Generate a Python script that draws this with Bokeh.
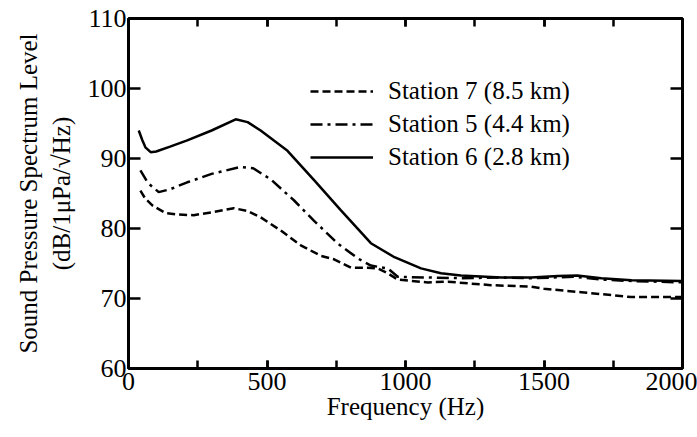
from bokeh.plotting import figure
from bokeh.models import Range1d, LinearAxis, SingleIntervalTicker, Legend, LegendItem
from bokeh.embed import file_html
from bokeh.resources import INLINE

# Station 6 (2.8 km) - solid
f6 = [37, 50, 61, 80, 100, 150, 212, 300, 387, 430, 477, 574, 670, 767, 875, 960, 1056, 1128, 1200, 1345, 1454, 1550, 1620, 1707, 1816, 2000]
v6 = [94.0, 92.6, 91.6, 90.9, 91.0, 91.7, 92.6, 94.0, 95.6, 95.2, 94.0, 91.1, 86.9, 82.6, 77.9, 75.9, 74.3, 73.6, 73.3, 73.0, 73.0, 73.2, 73.3, 72.9, 72.6, 72.5]

# Station 5 (4.4 km) - dash-dot
f5 = [43, 70, 109, 150, 212, 300, 405, 450, 514, 598, 670, 754, 829, 875, 936, 972, 1081, 1200, 1345, 1454, 1610, 1707, 1816, 2000]
v5 = [88.3, 86.5, 85.2, 85.6, 86.6, 87.8, 88.8, 88.6, 87.0, 84.0, 81.1, 77.9, 75.7, 74.7, 74.3, 73.1, 73.0, 72.9, 73.0, 72.9, 73.1, 72.7, 72.5, 72.3]

# Station 7 (8.5 km) - dashed
f7 = [43, 60, 86, 134, 180, 235, 300, 380, 430, 477, 550, 622, 694, 742, 803, 864, 900, 936, 972, 1081, 1153, 1309, 1454, 1500, 1635, 1816, 2000]
v7 = [85.4, 84.3, 83.3, 82.2, 82.0, 81.9, 82.3, 82.9, 82.5, 81.6, 79.7, 77.6, 76.1, 75.6, 74.4, 74.4, 74.3, 73.6, 72.7, 72.3, 72.4, 71.9, 71.7, 71.4, 70.9, 70.2, 70.2]

labels = ["Station 7 (8.5 km)", "Station 5 (4.4 km)", "Station 6 (2.8 km)"]

FONT = "'Liberation Serif', 'Times New Roman', serif"

p = figure(width=697, height=437, output_backend="svg", toolbar_location=None,
           x_range=Range1d(0, 2000), y_range=Range1d(60, 110),
           min_border_left=128, min_border_right=15, min_border_top=18, min_border_bottom=69)
p.background_fill_color = "white"
p.border_fill_color = "white"
p.grid.visible = False
p.outline_line_color = "black"
p.outline_line_width = 2.5

r7 = p.line(f7, v7, line_color="black", line_width=2.5, line_dash="8 4")
r5 = p.line(f5, v5, line_color="black", line_width=2.5, line_dash="12 5 3 5")
r6 = p.line(f6, v6, line_color="black", line_width=2.5)

p.xaxis.ticker = SingleIntervalTicker(interval=500, num_minor_ticks=2)
p.yaxis.ticker = SingleIntervalTicker(interval=10, num_minor_ticks=0)


def style(ax, labels_on=True, tick_len=9):
    ax.axis_line_color = "black"
    ax.axis_line_width = 3
    ax.major_tick_line_color = "black"
    ax.major_tick_line_width = 2.5
    ax.minor_tick_line_color = "black"
    ax.minor_tick_line_width = 2.5
    ax.major_tick_in = tick_len
    ax.major_tick_out = 0
    ax.minor_tick_in = tick_len
    ax.minor_tick_out = 0
    ax.major_label_text_font = FONT
    ax.major_label_text_font_size = "26px"
    ax.major_label_text_color = "black" if labels_on else None
    ax.axis_label_text_font = FONT
    ax.axis_label_text_font_style = "normal"
    ax.axis_label_text_color = "black"
    ax.axis_label_text_font_size = "25px"


style(p.xaxis[0], True, 8)
style(p.yaxis[0], True, 12)
p.xaxis.axis_label = "Frequency (Hz)"
p.xaxis.axis_label_standoff = 0
p.xaxis.major_label_standoff = 4
p.yaxis.axis_label = "Sound Pressure Spectrum Level\n(dB/1\u03bcPa/\u221aHz)"
p.yaxis.axis_label_standoff = 10
p.yaxis.major_label_standoff = 2

top = LinearAxis(ticker=SingleIntervalTicker(interval=500, num_minor_ticks=2))
style(top, False, 8)
p.add_layout(top, "above")
right = LinearAxis(ticker=SingleIntervalTicker(interval=10, num_minor_ticks=0))
style(right, False, 12)
p.add_layout(right, "right")

legend = Legend(items=[LegendItem(label=labels[0], renderers=[r7]),
                       LegendItem(label=labels[1], renderers=[r5]),
                       LegendItem(label=labels[2], renderers=[r6])],
                location=(182, 196))
legend.background_fill_color = "white"
legend.background_fill_alpha = 1.0
legend.border_line_color = None
legend.padding = 0
legend.margin = 0
legend.spacing = 3
legend.glyph_width = 63
legend.glyph_height = 30
legend.label_height = 30
legend.label_standoff = 15
legend.label_text_font = FONT
legend.label_text_font_size = "25px"
legend.label_text_color = "black"
p.add_layout(legend)

open("out.html", "w").write(file_html(p, INLINE))
